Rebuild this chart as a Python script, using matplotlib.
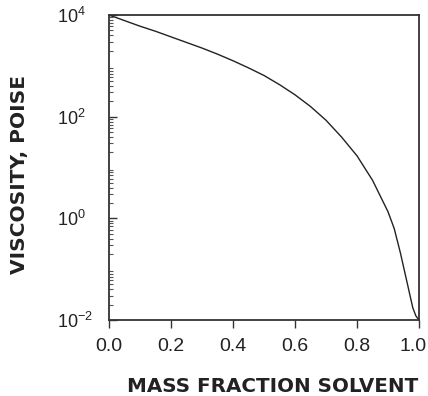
import numpy as np
import matplotlib
matplotlib.use("Agg")
import matplotlib.pyplot as plt
from matplotlib.ticker import LogLocator, FixedLocator, NullFormatter
from matplotlib.transforms import ScaledTranslation

mass_fraction = [0.0, 0.05, 0.1, 0.15, 0.2, 0.25, 0.3, 0.35, 0.4, 0.45, 0.5, 0.55, 0.6,
                 0.65, 0.7, 0.75, 0.8, 0.85, 0.9, 0.92, 0.94, 0.96, 0.98, 0.99, 1.0]
log_viscosity = [4.00, 3.89, 3.78, 3.68, 3.57, 3.46, 3.35, 3.23, 3.10, 2.96, 2.81, 2.63, 2.43,
                 2.20, 1.93, 1.60, 1.23, 0.75, 0.13, -0.20, -0.68, -1.22, -1.76, -1.92, -2.0]
viscosity = [10 ** v for v in log_viscosity]

x_ticks = [0.0, 0.2, 0.4, 0.6, 0.8, 1.0]
x_tick_labels = ["0.0", "0.2", "0.4", "0.6", "0.8", "1.0"]
y_ticks = [1e-2, 1e0, 1e2, 1e4]
y_tick_labels = ["$\\mathregular{10^{-2}}$", "$\\mathregular{10^{0}}$", "$\\mathregular{10^{2}}$", "$\\mathregular{10^{4}}$"]

plt.rcParams['font.family'] = ['Liberation Sans', 'DejaVu Sans']

fig = plt.figure(figsize=(4.28, 3.96), dpi=100)
ax = fig.add_axes([109/428, 1 - 320/396, 310/428, 305/396])
ax.plot(mass_fraction, viscosity, color="#222222", lw=1.0)
ax.set_yscale("log")
ax.set_xlim(0, 1)
ax.set_ylim(1e-2, 1e4)

ax.xaxis.set_major_locator(FixedLocator(x_ticks))
ax.set_xticklabels(x_tick_labels)
ax.yaxis.set_major_locator(FixedLocator(y_ticks))
ax.set_yticklabels(y_tick_labels)
ax.yaxis.set_minor_locator(LogLocator(base=10, subs=np.arange(2, 10), numticks=20))
ax.yaxis.set_minor_formatter(NullFormatter())

ax.tick_params(axis="x", direction="out", length=6, width=1, colors="#333333", labelsize=14, labelcolor="#222222", pad=7)
ax.tick_params(axis="y", which="major", direction="in", length=6, width=1, colors="#333333", labelsize=13, labelcolor="#222222", pad=37.4)
ax.tick_params(axis="y", which="minor", direction="in", length=3, width=0.8, colors="#555555")
for lbl in ax.get_yticklabels():
    lbl.set_horizontalalignment("left")
xl = ax.get_xticklabels()
xl[-1].set_transform(xl[-1].get_transform() + ScaledTranslation(-6/100, 0, fig.dpi_scale_trans))
for s in ax.spines.values():
    s.set_color("#333333")
    s.set_linewidth(1.3)

fig.text(273/428, 1 - 386/396, "MASS FRACTION SOLVENT", ha="center", va="center",
         fontsize=14.3, fontweight="bold", color="#222222", family="DejaVu Sans")
fig.text(20/428, 1 - 174/396, "VISCOSITY, POISE", ha="center", va="center",
         rotation=90, fontsize=14.5, fontweight="bold", color="#222222", family="DejaVu Sans")

fig.savefig("out.png", dpi=100)
